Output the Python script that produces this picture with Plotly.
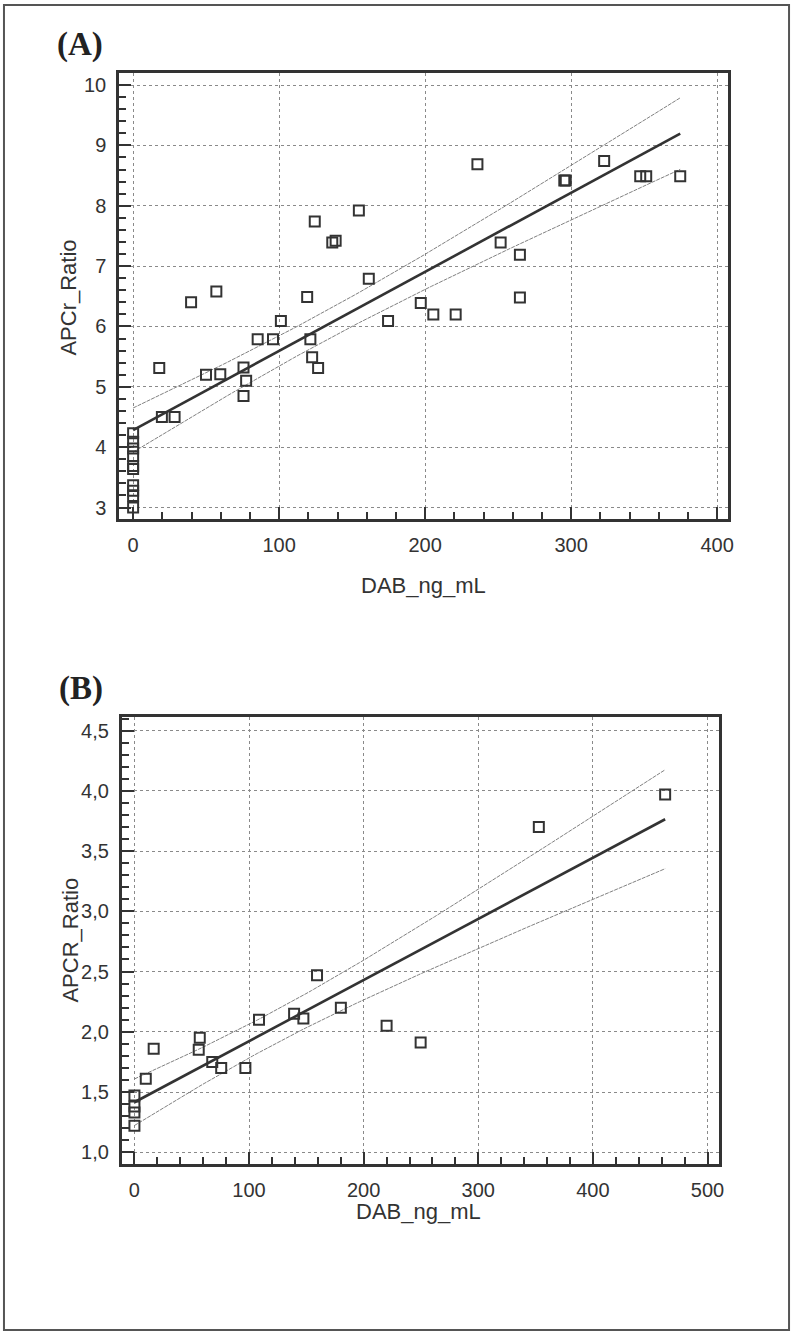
import numpy as np
import plotly.graph_objects as go

# ---------------- Data ----------------
# Panel A
dab_A = [0, 0, 0, 0, 0, 0, 0, 0, 0, 0,
         17.9, 19.7, 28.4, 39.7, 49.9, 57.0, 59.7, 75.6, 75.6, 77.4,
         85.3, 95.8, 101.2, 119.2, 121.4, 122.6, 124.4, 126.7, 136.4, 138.7,
         154.6, 161.4, 174.6, 197.0, 205.6, 220.9, 235.8, 251.7, 264.9, 264.9,
         295.3, 296.3, 322.6, 347.3, 351.4, 374.7]
apcr_A = [4.23, 4.09, 3.98, 3.85, 3.69, 3.64, 3.37, 3.28, 3.19, 3.00,
          5.31, 4.50, 4.50, 6.40, 5.20, 6.58, 5.21, 5.32, 4.85, 5.10,
          5.79, 5.79, 6.09, 6.49, 5.79, 5.49, 7.74, 5.31, 7.39, 7.42,
          7.92, 6.79, 6.09, 6.39, 6.20, 6.20, 8.69, 7.39, 7.19, 6.48,
          8.42, 8.42, 8.74, 8.49, 8.49, 8.49]

# Panel B
dab_B = [0, 0, 0, 0, 9.9, 16.8, 56.1, 57.0, 67.9, 75.7,
         96.8, 108.7, 139.3, 147.4, 159.3, 180.1, 220.0, 249.7, 352.8, 463.0]
apcr_B = [1.47, 1.38, 1.33, 1.22, 1.61, 1.86, 1.85, 1.95, 1.75, 1.70,
          1.70, 2.10, 2.15, 2.11, 2.47, 2.20, 2.05, 1.91, 3.70, 3.97]

ticks_B_y = [1.0, 1.5, 2.0, 2.5, 3.0, 3.5, 4.0, 4.5]
ticks_B_y_text = ["1,0", "1,5", "2,0", "2,5", "3,0", "3,5", "4,0", "4,5"]

T_CRIT = {44: 2.015, 18: 2.101}   # two-sided 95% t quantiles


def fit_with_ci(x, y):
    x = np.asarray(x, float)
    y = np.asarray(y, float)
    n = len(x)
    b, a = np.polyfit(x, y, 1)
    resid = y - (a + b * x)
    s = np.sqrt(np.sum(resid ** 2) / (n - 2))
    xm = x.mean()
    sxx = np.sum((x - xm) ** 2)
    xs = np.linspace(x.min(), x.max(), 100)
    yf = a + b * xs
    t = T_CRIT[n - 2]
    half = t * s * np.sqrt(1.0 / n + (xs - xm) ** 2 / sxx)
    return xs, yf, yf + half, yf - half


DARK = "#333333"
fig = go.Figure()


def add_panel(x, y, xa, ya):
    xs, yf, up, lo = fit_with_ci(x, y)
    for band in (up, lo):
        fig.add_trace(go.Scatter(x=xs, y=band, mode="lines", xaxis=xa, yaxis=ya,
                                 line=dict(color="#808080", width=1, dash="4px,1px"),
                                 hoverinfo="skip", showlegend=False))
    fig.add_trace(go.Scatter(x=xs, y=yf, mode="lines", xaxis=xa, yaxis=ya,
                             line=dict(color=DARK, width=2.6),
                             hoverinfo="skip", showlegend=False))
    fig.add_trace(go.Scatter(x=x, y=y, mode="markers", xaxis=xa, yaxis=ya,
                             marker=dict(symbol="square-open", size=10,
                                         color=DARK, line=dict(width=2, color=DARK)),
                             showlegend=False))


add_panel(dab_A, apcr_A, "x", "y")
add_panel(dab_B, apcr_B, "x2", "y2")

W, H = 800, 1337
tickfont = dict(family="Liberation Sans, Arial, sans-serif", size=20, color=DARK)


def axis_common(minor_dtick):
    return dict(
        showline=True, linecolor=DARK, linewidth=3, mirror=True,
        ticks="inside", ticklen=12, tickwidth=2, tickcolor=DARK,
        showgrid=True, gridcolor="#8a8a8a", griddash="dot", gridwidth=1,
        zeroline=False, tickfont=tickfont, ticklabelstandoff=6,
        minor=dict(dtick=minor_dtick, ticks="inside", ticklen=7, tickwidth=2,
                   tickcolor=DARK, showgrid=False),
    )


xA = axis_common(20)
xA.update(domain=[120 / W, 733 / W], range=[-9.5, 407.7], anchor="y",
          tickmode="linear", tick0=0, dtick=100)
yA = axis_common(0.2)
yA.update(domain=[1 - 519 / H, 1 - 73 / H], range=[2.81, 10.2], anchor="x",
          tickmode="linear", tick0=3, dtick=1)
xB = axis_common(20)
xB.update(domain=[122.7 / W, 724 / W], range=[-10.9, 510.4], anchor="y2",
          tickmode="linear", tick0=0, dtick=100)
yB = axis_common(0.1)
yB.update(domain=[1 - 1164.3 / H, 1 - 717.3 / H], range=[0.90, 4.61], anchor="x2",
          tickmode="array", tickvals=ticks_B_y, ticktext=ticks_B_y_text)

titlefont = dict(family="Liberation Sans, Arial, sans-serif", size=22, color=DARK)
labelfont = dict(family="Liberation Serif, Times New Roman, serif", size=33, color="#222222")

annotations = [
    dict(text="DAB_ng_mL", x=426 / W, y=1 - 585 / H, xref="paper", yref="paper",
         showarrow=False, font=titlefont, xanchor="center", yanchor="middle"),
    dict(text="APCr_Ratio", x=68 / W, y=1 - 298 / H, xref="paper", yref="paper",
         showarrow=False, font=titlefont, textangle=-90, xanchor="center", yanchor="middle"),
    dict(text="DAB_ng_mL", x=421 / W, y=1 - 1211 / H, xref="paper", yref="paper",
         showarrow=False, font=titlefont, xanchor="center", yanchor="middle"),
    dict(text="APCR_Ratio", x=70 / W, y=1 - 940 / H, xref="paper", yref="paper",
         showarrow=False, font=titlefont, textangle=-90, xanchor="center", yanchor="middle"),
    dict(text="<b>(A)</b>", x=80 / W, y=1 - 45 / H, xref="paper", yref="paper",
         showarrow=False, font=labelfont, xanchor="center", yanchor="middle"),
    dict(text="<b>(B)</b>", x=82 / W, y=1 - 688 / H, xref="paper", yref="paper",
         showarrow=False, font=labelfont, xanchor="center", yanchor="middle"),
]

fig.update_layout(
    width=W, height=H,
    margin=dict(l=0, r=0, t=0, b=0),
    paper_bgcolor="white", plot_bgcolor="white",
    xaxis=xA, yaxis=yA, xaxis2=xB, yaxis2=yB,
    annotations=annotations,
    shapes=[dict(type="rect", xref="paper", yref="paper",
                 x0=4 / W, x1=794 / W, y0=1 - 1330 / H, y1=1 - 5 / H,
                 line=dict(color="#555555", width=2))],
)

fig.write_html("out.html", config={"displayModeBar": False},
               post_script="document.body.style.margin='0';document.body.style.overflow='hidden';")
